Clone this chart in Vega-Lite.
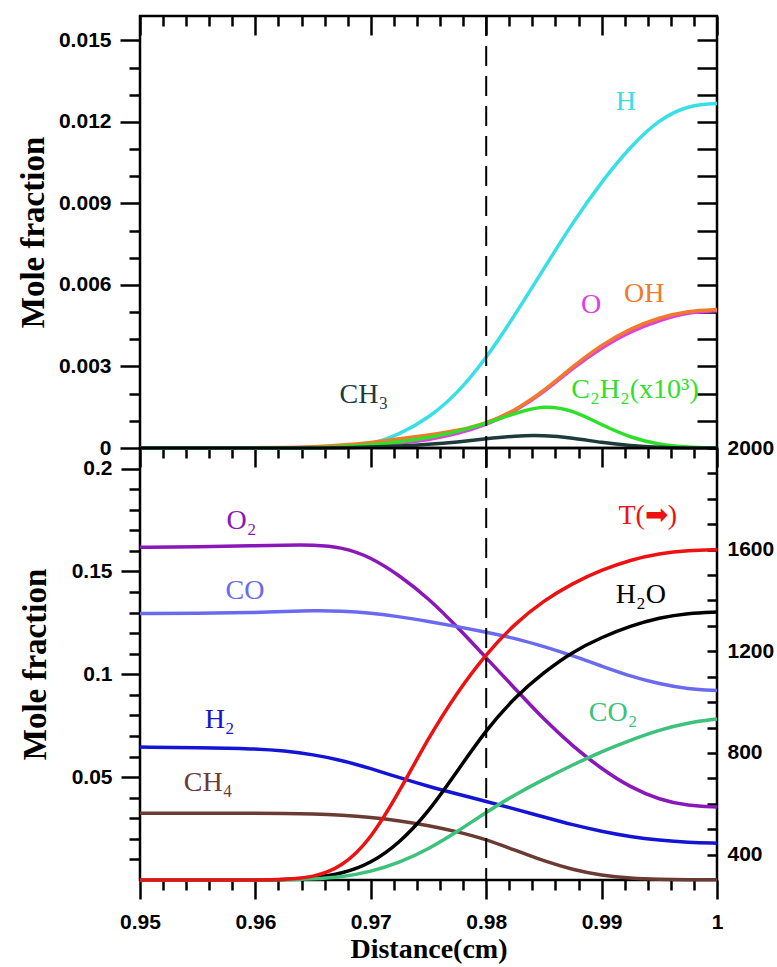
{
  "$schema": "https://vega.github.io/schema/vega-lite/v6.json",
  "padding": {"left": 16, "top": 13, "right": 2, "bottom": 2},
  "background": "white",
  "spacing": 0,
  "bounds": "flush",
  "config": {
    "view": {"stroke": "black", "strokeWidth": 2.5},
    "axis": {"domainColor": "black", "domainWidth": 2.5, "tickColor": "black", "tickWidth": 2.5, "grid": false,
      "labelFont": "Liberation Sans", "labelFontWeight": "bold", "labelFontSize": 21, "labelColor": "black",
      "labelOverlap": false, "labelFlush": false,
      "titleFont": "Liberation Serif", "titleFontWeight": "bold", "titleColor": "black"},
    "text": {"font": "Liberation Serif", "fontSize": 28}
  },
  "datasets": {
    "top": [
      {"x":0.95,"s":"H","v":0},{"x":0.955,"s":"H","v":0},{"x":0.96,"s":"H","v":0},{"x":0.9625,"s":"H","v":0},{"x":0.965,"s":"H","v":0.00001},{"x":0.9675,"s":"H","v":0.00003},{"x":0.97,"s":"H","v":0.00012},{"x":0.9725,"s":"H","v":0.0005},{"x":0.975,"s":"H","v":0.0011},{"x":0.9775,"s":"H","v":0.002},{"x":0.98,"s":"H","v":0.0033},{"x":0.9825,"s":"H","v":0.0049},{"x":0.985,"s":"H","v":0.0066},{"x":0.9875,"s":"H","v":0.0083},{"x":0.99,"s":"H","v":0.0098},{"x":0.9925,"s":"H","v":0.0111},{"x":0.995,"s":"H","v":0.0121},{"x":0.9975,"s":"H","v":0.01262},{"x":1.0,"s":"H","v":0.01268},
      {"x":0.95,"s":"O","v":0},{"x":0.955,"s":"O","v":0},{"x":0.96,"s":"O","v":0},{"x":0.9625,"s":"O","v":0.00001},{"x":0.965,"s":"O","v":0.00002},{"x":0.9675,"s":"O","v":0.00005},{"x":0.97,"s":"O","v":0.0001},{"x":0.9725,"s":"O","v":0.00017},{"x":0.975,"s":"O","v":0.0003},{"x":0.9775,"s":"O","v":0.00052},{"x":0.98,"s":"O","v":0.00085},{"x":0.9825,"s":"O","v":0.00135},{"x":0.985,"s":"O","v":0.00205},{"x":0.9875,"s":"O","v":0.00295},{"x":0.99,"s":"O","v":0.0037},{"x":0.9925,"s":"O","v":0.0043},{"x":0.995,"s":"O","v":0.0047},{"x":0.9975,"s":"O","v":0.005},{"x":1.0,"s":"O","v":0.00505},
      {"x":0.95,"s":"OH","v":0},{"x":0.955,"s":"OH","v":0},{"x":0.96,"s":"OH","v":0.00001},{"x":0.9625,"s":"OH","v":0.00002},{"x":0.965,"s":"OH","v":0.00004},{"x":0.9675,"s":"OH","v":0.0001},{"x":0.97,"s":"OH","v":0.0002},{"x":0.9725,"s":"OH","v":0.00034},{"x":0.975,"s":"OH","v":0.00048},{"x":0.9775,"s":"OH","v":0.00064},{"x":0.98,"s":"OH","v":0.0009},{"x":0.9825,"s":"OH","v":0.00138},{"x":0.985,"s":"OH","v":0.0021},{"x":0.9875,"s":"OH","v":0.003},{"x":0.99,"s":"OH","v":0.0038},{"x":0.9925,"s":"OH","v":0.0044},{"x":0.995,"s":"OH","v":0.0048},{"x":0.9975,"s":"OH","v":0.00505},{"x":1.0,"s":"OH","v":0.0051},
      {"x":0.95,"s":"C2H2","v":0},{"x":0.955,"s":"C2H2","v":0},{"x":0.96,"s":"C2H2","v":0},{"x":0.9625,"s":"C2H2","v":0},{"x":0.965,"s":"C2H2","v":0.00001},{"x":0.9675,"s":"C2H2","v":0.00004},{"x":0.97,"s":"C2H2","v":0.00011},{"x":0.9725,"s":"C2H2","v":0.00022},{"x":0.975,"s":"C2H2","v":0.00037},{"x":0.9775,"s":"C2H2","v":0.0006},{"x":0.98,"s":"C2H2","v":0.0009},{"x":0.9825,"s":"C2H2","v":0.00128},{"x":0.985,"s":"C2H2","v":0.00158},{"x":0.9875,"s":"C2H2","v":0.0014},{"x":0.99,"s":"C2H2","v":0.00085},{"x":0.9925,"s":"C2H2","v":0.00038},{"x":0.995,"s":"C2H2","v":0.00012},{"x":0.9975,"s":"C2H2","v":0.00003},{"x":1.0,"s":"C2H2","v":0},
      {"x":0.95,"s":"CH3","v":0},{"x":0.955,"s":"CH3","v":0},{"x":0.96,"s":"CH3","v":0},{"x":0.9625,"s":"CH3","v":0},{"x":0.965,"s":"CH3","v":0},{"x":0.9675,"s":"CH3","v":0.00001},{"x":0.97,"s":"CH3","v":0.00003},{"x":0.9725,"s":"CH3","v":0.00007},{"x":0.975,"s":"CH3","v":0.00013},{"x":0.9775,"s":"CH3","v":0.00022},{"x":0.98,"s":"CH3","v":0.00034},{"x":0.9825,"s":"CH3","v":0.00045},{"x":0.985,"s":"CH3","v":0.00047},{"x":0.9875,"s":"CH3","v":0.00037},{"x":0.99,"s":"CH3","v":0.0002},{"x":0.9925,"s":"CH3","v":0.00008},{"x":0.995,"s":"CH3","v":0.00002},{"x":0.9975,"s":"CH3","v":0},{"x":1.0,"s":"CH3","v":0}
    ],
    "topLabels": [
      {"s":"H","label":"H","x":0.9921,"v":0.01274},
      {"s":"O","label":"O","x":0.9891,"v":0.00526},
      {"s":"OH","label":"OH","x":0.9937,"v":0.00568},
      {"s":"C2H2","label":"C₂H₂(x10³)","x":0.9929,"v":0.00213},
      {"s":"CH3","label":"CH₃","x":0.9694,"v":0.00194}
    ],
    "bottom": [
      {"x":0.95,"s":"O2","v":0.1617},{"x":0.955,"s":"O2","v":0.162},{"x":0.96,"s":"O2","v":0.1625},{"x":0.9625,"s":"O2","v":0.1628},{"x":0.965,"s":"O2","v":0.163},{"x":0.9675,"s":"O2","v":0.1618},{"x":0.97,"s":"O2","v":0.157},{"x":0.9725,"s":"O2","v":0.148},{"x":0.975,"s":"O2","v":0.137},{"x":0.9775,"s":"O2","v":0.123},{"x":0.98,"s":"O2","v":0.108},{"x":0.9825,"s":"O2","v":0.093},{"x":0.985,"s":"O2","v":0.078},{"x":0.9875,"s":"O2","v":0.065},{"x":0.99,"s":"O2","v":0.054},{"x":0.9925,"s":"O2","v":0.045},{"x":0.995,"s":"O2","v":0.039},{"x":0.9975,"s":"O2","v":0.036},{"x":1.0,"s":"O2","v":0.0355},
      {"x":0.95,"s":"CO","v":0.1295},{"x":0.955,"s":"CO","v":0.1297},{"x":0.96,"s":"CO","v":0.13},{"x":0.9625,"s":"CO","v":0.1305},{"x":0.965,"s":"CO","v":0.131},{"x":0.9675,"s":"CO","v":0.1308},{"x":0.97,"s":"CO","v":0.1298},{"x":0.9725,"s":"CO","v":0.128},{"x":0.975,"s":"CO","v":0.1257},{"x":0.9775,"s":"CO","v":0.1232},{"x":0.98,"s":"CO","v":0.1205},{"x":0.9825,"s":"CO","v":0.1175},{"x":0.985,"s":"CO","v":0.1135},{"x":0.9875,"s":"CO","v":0.109},{"x":0.99,"s":"CO","v":0.104},{"x":0.9925,"s":"CO","v":0.099},{"x":0.995,"s":"CO","v":0.0953},{"x":0.9975,"s":"CO","v":0.0928},{"x":1.0,"s":"CO","v":0.0921},
      {"x":0.95,"s":"H2","v":0.0646},{"x":0.955,"s":"H2","v":0.0644},{"x":0.96,"s":"H2","v":0.0638},{"x":0.9625,"s":"H2","v":0.0628},{"x":0.965,"s":"H2","v":0.061},{"x":0.9675,"s":"H2","v":0.0582},{"x":0.97,"s":"H2","v":0.0542},{"x":0.9725,"s":"H2","v":0.0497},{"x":0.975,"s":"H2","v":0.0455},{"x":0.9775,"s":"H2","v":0.0418},{"x":0.98,"s":"H2","v":0.0382},{"x":0.9825,"s":"H2","v":0.0345},{"x":0.985,"s":"H2","v":0.0306},{"x":0.9875,"s":"H2","v":0.0268},{"x":0.99,"s":"H2","v":0.0236},{"x":0.9925,"s":"H2","v":0.021},{"x":0.995,"s":"H2","v":0.0193},{"x":0.9975,"s":"H2","v":0.0182},{"x":1.0,"s":"H2","v":0.0179},
      {"x":0.95,"s":"CH4","v":0.0324},{"x":0.955,"s":"CH4","v":0.0325},{"x":0.96,"s":"CH4","v":0.0325},{"x":0.9625,"s":"CH4","v":0.0324},{"x":0.965,"s":"CH4","v":0.0322},{"x":0.9675,"s":"CH4","v":0.0316},{"x":0.97,"s":"CH4","v":0.0305},{"x":0.9725,"s":"CH4","v":0.0288},{"x":0.975,"s":"CH4","v":0.0265},{"x":0.9775,"s":"CH4","v":0.0235},{"x":0.98,"s":"CH4","v":0.0198},{"x":0.9825,"s":"CH4","v":0.0145},{"x":0.985,"s":"CH4","v":0.0092},{"x":0.9875,"s":"CH4","v":0.005},{"x":0.99,"s":"CH4","v":0.0022},{"x":0.9925,"s":"CH4","v":0.0008},{"x":0.995,"s":"CH4","v":0.0003},{"x":0.9975,"s":"CH4","v":0.0001},{"x":1.0,"s":"CH4","v":0.0001},
      {"x":0.95,"s":"H2O","v":0},{"x":0.955,"s":"H2O","v":0},{"x":0.96,"s":"H2O","v":0},{"x":0.9625,"s":"H2O","v":0.0002},{"x":0.965,"s":"H2O","v":0.001},{"x":0.9675,"s":"H2O","v":0.003},{"x":0.97,"s":"H2O","v":0.008},{"x":0.9725,"s":"H2O","v":0.018},{"x":0.975,"s":"H2O","v":0.033},{"x":0.9775,"s":"H2O","v":0.053},{"x":0.98,"s":"H2O","v":0.073},{"x":0.9825,"s":"H2O","v":0.089},{"x":0.985,"s":"H2O","v":0.101},{"x":0.9875,"s":"H2O","v":0.111},{"x":0.99,"s":"H2O","v":0.118},{"x":0.9925,"s":"H2O","v":0.1235},{"x":0.995,"s":"H2O","v":0.1275},{"x":0.9975,"s":"H2O","v":0.1297},{"x":1.0,"s":"H2O","v":0.1303},
      {"x":0.95,"s":"CO2","v":0},{"x":0.955,"s":"CO2","v":0},{"x":0.96,"s":"CO2","v":0},{"x":0.9625,"s":"CO2","v":0.0001},{"x":0.965,"s":"CO2","v":0.0005},{"x":0.9675,"s":"CO2","v":0.0015},{"x":0.97,"s":"CO2","v":0.004},{"x":0.9725,"s":"CO2","v":0.0085},{"x":0.975,"s":"CO2","v":0.015},{"x":0.9775,"s":"CO2","v":0.0235},{"x":0.98,"s":"CO2","v":0.033},{"x":0.9825,"s":"CO2","v":0.0415},{"x":0.985,"s":"CO2","v":0.049},{"x":0.9875,"s":"CO2","v":0.056},{"x":0.99,"s":"CO2","v":0.0625},{"x":0.9925,"s":"CO2","v":0.068},{"x":0.995,"s":"CO2","v":0.073},{"x":0.9975,"s":"CO2","v":0.0765},{"x":1.0,"s":"CO2","v":0.0783}
    ],
    "temp": [
      {"x":0.95,"s":"T","T":300},{"x":0.955,"s":"T","T":300},{"x":0.96,"s":"T","T":300},{"x":0.9625,"s":"T","T":302},{"x":0.965,"s":"T","T":310},{"x":0.9675,"s":"T","T":350},{"x":0.97,"s":"T","T":460},{"x":0.9725,"s":"T","T":650},{"x":0.975,"s":"T","T":860},{"x":0.9775,"s":"T","T":1040},{"x":0.98,"s":"T","T":1190},{"x":0.9825,"s":"T","T":1310},{"x":0.985,"s":"T","T":1400},{"x":0.9875,"s":"T","T":1468},{"x":0.99,"s":"T","T":1520},{"x":0.9925,"s":"T","T":1560},{"x":0.995,"s":"T","T":1585},{"x":0.9975,"s":"T","T":1597},{"x":1.0,"s":"T","T":1600}
    ],
    "bottomLabels": [
      {"s":"O2","label":"O₂","x":0.9588,"v":0.1747},
      {"s":"CO","label":"CO","x":0.9591,"v":0.1407},
      {"s":"H2","label":"H₂","x":0.9569,"v":0.0778},
      {"s":"CH4","label":"CH₄","x":0.9559,"v":0.0472},
      {"s":"T","label":"T(➡)","x":0.994,"v":0.177},
      {"s":"H2O","label":"H₂O","x":0.9934,"v":0.1387},
      {"s":"CO2","label":"CO₂","x":0.991,"v":0.081}
    ],
    "marker": [{"x": 0.98}]
  },
  "vconcat": [
    {
      "width": 577, "height": 432,
      "resolve": {"axis": {"x": "independent", "y": "independent"}},
      "layer": [
        {
          "data": {"name": "top"},
          "mark": {"type": "line", "interpolate": "basis", "strokeWidth": 3.5},
          "encoding": {
            "x": {"field": "x", "type": "quantitative", "scale": {"domain": [0.95, 1], "nice": false, "zero": false},
              "axis": {"orient": "bottom", "title": null, "labels": false, "domain": false,
                "values": [0.95,0.952,0.954,0.956,0.958,0.96,0.962,0.964,0.966,0.968,0.97,0.972,0.974,0.976,0.978,0.98,0.982,0.984,0.986,0.988,0.99,0.992,0.994,0.996,0.998,1.0],
                "tickSize": {"condition": {"test": "abs(datum.value*100 - round(datum.value*100)) < 0.01", "value": 19}, "value": 10}}},
            "y": {"field": "v", "type": "quantitative", "scale": {"domain": [0, 0.0159], "nice": false, "zero": false},
              "axis": {"orient": "left", "title": "Mole fraction", "titleFontSize": 33, "titlePadding": 8, "domain": false,
                "values": [0,0.001,0.002,0.003,0.004,0.005,0.006,0.007,0.008,0.009,0.01,0.011,0.012,0.013,0.014,0.015],
                "labelPadding": 9,
                "labelExpr": "abs(datum.value/0.003 - round(datum.value/0.003)) < 0.01 ? (datum.value == 0 ? '0' : format(datum.value, '.3f')) : ''",
                "tickSize": {"condition": {"test": "abs(datum.value/0.003 - round(datum.value/0.003)) < 0.01", "value": 20}, "value": 11}}},
            "color": {"field": "s", "type": "nominal", "legend": null,
              "scale": {"domain": ["H","O","OH","C2H2","CH3","O2","CO","H2","CH4","H2O","CO2","T"],
                "range": ["#38e0e6","#e23de2","#ef7a2c","#2fe02a","#1d3b3b","#8a17b8","#6a6aee","#1414d4","#6b3b33","#000000","#3cc27a","#ee1111"]}}
          }
        },
        {
          "data": {"name": "topLabels"},
          "mark": {"type": "text", "align": "center", "baseline": "middle"},
          "encoding": {
            "x": {"field": "x", "type": "quantitative", "scale": {"domain": [0.95, 1], "nice": false, "zero": false},
              "axis": {"orient": "top", "title": null, "labels": false, "domain": false,
                "values": [0.95,0.952,0.954,0.956,0.958,0.96,0.962,0.964,0.966,0.968,0.97,0.972,0.974,0.976,0.978,0.98,0.982,0.984,0.986,0.988,0.99,0.992,0.994,0.996,0.998,1.0],
                "tickSize": {"condition": {"test": "abs(datum.value*100 - round(datum.value*100)) < 0.01", "value": -19}, "value": -10}}},
            "y": {"field": "v", "type": "quantitative", "scale": {"domain": [0, 0.0159], "nice": false, "zero": false},
              "axis": {"orient": "right", "title": null, "labels": false, "domain": false, "tickSize": -20,
                "values": [0.001,0.002,0.003,0.004,0.005,0.006,0.007,0.008,0.009,0.01,0.011,0.012,0.013,0.014,0.015]}},
            "text": {"field": "label"},
            "color": {"field": "s", "type": "nominal", "legend": null,
              "scale": {"domain": ["H","O","OH","C2H2","CH3","O2","CO","H2","CH4","H2O","CO2","T"],
                "range": ["#38e0e6","#e23de2","#ef7a2c","#2fe02a","#1d3b3b","#8a17b8","#6a6aee","#1414d4","#6b3b33","#000000","#3cc27a","#ee1111"]}}
          }
        },
        {
          "data": {"name": "marker"},
          "mark": {"type": "rule", "color": "black", "strokeWidth": 2, "strokeDash": [20, 10]},
          "encoding": {
            "x": {"field": "x", "type": "quantitative", "scale": {"domain": [0.95, 1], "nice": false, "zero": false}, "axis": null}
          }
        }
      ]
    },
    {
      "width": 577, "height": 432,
      "resolve": {"scale": {"y": "independent"}, "axis": {"x": "independent", "y": "independent"}},
      "layer": [
        {
          "data": {"name": "bottom"},
          "mark": {"type": "line", "interpolate": "basis", "strokeWidth": 3.5},
          "encoding": {
            "x": {"field": "x", "type": "quantitative", "scale": {"domain": [0.95, 1], "nice": false, "zero": false},
              "axis": {"orient": "bottom", "title": "Distance(cm)", "titleFontSize": 28, "titlePadding": 3, "domain": false,
                "labelPadding": 12,
                "values": [0.95,0.952,0.954,0.956,0.958,0.96,0.962,0.964,0.966,0.968,0.97,0.972,0.974,0.976,0.978,0.98,0.982,0.984,0.986,0.988,0.99,0.992,0.994,0.996,0.998,1.0],
                "labelExpr": "abs(datum.value*100 - round(datum.value*100)) < 0.01 ? format(datum.value, '~g') : ''",
                "tickSize": {"condition": {"test": "abs(datum.value*100 - round(datum.value*100)) < 0.01", "value": 19}, "value": 10}}},
            "y": {"field": "v", "type": "quantitative", "scale": {"domain": [0, 0.21], "nice": false, "zero": false},
              "axis": {"orient": "left", "title": "Mole fraction", "titleFontSize": 33, "titlePadding": 19, "domain": false,
                "labelPadding": 9,
                "values": [0.01,0.02,0.03,0.04,0.05,0.06,0.07,0.08,0.09,0.1,0.11,0.12,0.13,0.14,0.15,0.16,0.17,0.18,0.19,0.2],
                "labelExpr": "abs(datum.value/0.05 - round(datum.value/0.05)) < 0.01 ? format(datum.value, '~g') : ''",
                "tickSize": {"condition": {"test": "abs(datum.value/0.05 - round(datum.value/0.05)) < 0.01", "value": 19}, "value": 11}}},
            "color": {"field": "s", "type": "nominal", "legend": null,
              "scale": {"domain": ["H","O","OH","C2H2","CH3","O2","CO","H2","CH4","H2O","CO2","T"],
                "range": ["#38e0e6","#e23de2","#ef7a2c","#2fe02a","#1d3b3b","#8a17b8","#6a6aee","#1414d4","#6b3b33","#000000","#3cc27a","#ee1111"]}}
          }
        },
        {
          "data": {"name": "temp"},
          "mark": {"type": "line", "interpolate": "basis", "strokeWidth": 3.5, "color": "#ee1111"},
          "encoding": {
            "x": {"field": "x", "type": "quantitative", "scale": {"domain": [0.95, 1], "nice": false, "zero": false}, "axis": null},
            "y": {"field": "T", "type": "quantitative", "scale": {"domain": [300, 2000], "nice": false, "zero": false},
              "axis": {"orient": "right", "title": null, "domain": false, "tickSize": -10, "labelPadding": 20,
                "values": [400,500,600,700,800,900,1000,1100,1200,1300,1400,1500,1600,1700,1800,1900,2000],
                "labelExpr": "datum.value % 400 == 0 ? format(datum.value, 'd') : ''"}}
          }
        },
        {
          "data": {"name": "bottomLabels"},
          "mark": {"type": "text", "align": "center", "baseline": "middle"},
          "encoding": {
            "x": {"field": "x", "type": "quantitative", "scale": {"domain": [0.95, 1], "nice": false, "zero": false}, "axis": null},
            "y": {"field": "v", "type": "quantitative", "scale": {"domain": [0, 0.21], "nice": false, "zero": false}, "axis": null},
            "text": {"field": "label"},
            "color": {"field": "s", "type": "nominal", "legend": null,
              "scale": {"domain": ["H","O","OH","C2H2","CH3","O2","CO","H2","CH4","H2O","CO2","T"],
                "range": ["#38e0e6","#e23de2","#ef7a2c","#2fe02a","#1d3b3b","#8a17b8","#6a6aee","#1414d4","#6b3b33","#000000","#3cc27a","#ee1111"]}}
          }
        },
        {
          "data": {"name": "marker"},
          "mark": {"type": "rule", "color": "black", "strokeWidth": 2, "strokeDash": [20, 10]},
          "encoding": {
            "x": {"field": "x", "type": "quantitative", "scale": {"domain": [0.95, 1], "nice": false, "zero": false}, "axis": null}
          }
        }
      ]
    }
  ]
}
